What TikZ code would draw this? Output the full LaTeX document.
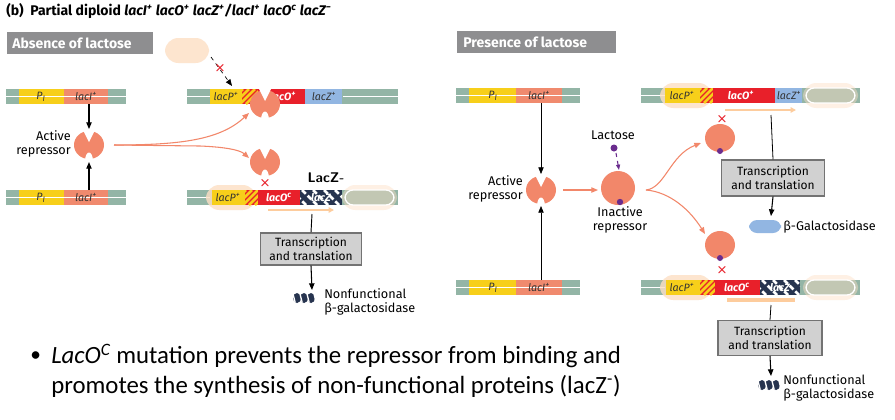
\documentclass[tikz,border=0pt]{standalone}
\usepackage{fontspec}
\setmainfont{Carlito}
\newfontfamily\fig{Fira Sans}
\usetikzlibrary{arrows.meta}
\definecolor{gg}{HTML}{93B5A6}
\definecolor{yl}{HTML}{F7CF1A}
\definecolor{sal}{HTML}{F08A6E}
\definecolor{rd}{HTML}{E8202A}
\definecolor{bl}{HTML}{92B6E2}
\definecolor{rep}{HTML}{F2876A}
\definecolor{pch}{HTML}{FDDFC4}
\definecolor{pur}{HTML}{6A2C8E}
\definecolor{gbox}{HTML}{8E8E90}
\definecolor{nav}{HTML}{27344F}
\tikzset{
  lab/.style={font=\fig\fontsize{9.5pt}{10.5pt}\selectfont, inner sep=0pt},
  glab/.style={font=\fig\itshape\fontsize{8pt}{8pt}\selectfont, inner sep=0pt, text=black!80},
  wlab/.style={font=\fig\itshape\bfseries\fontsize{8pt}{8pt}\selectfont, inner sep=0pt, text=white},
  hdr/.style={fill=gbox, text=white, font=\fig\bfseries\fontsize{9pt}{10pt}\selectfont, inner sep=0pt, anchor=north west},
  tbox/.style={draw=black!55, line width=1pt, fill=black!18, align=center, font=\fig\fontsize{9pt}{11pt}\selectfont, inner sep=2pt},
  arr/.style={-{Triangle[length=5pt,width=4pt]}, line width=0.8pt},
  thin/.style={-{Triangle[length=5pt,width=4pt]}, line width=0.5pt},
  rarr/.style={-{Triangle[length=5pt,width=4pt]}, line width=0.8pt, draw=rep},
  xmark/.style={text=rd, font=\sffamily\bfseries\fontsize{10pt}{10pt}\selectfont, inner sep=0pt},
  act/.pic={\fill[rep] (0,0) ellipse (15 and 14);
    \fill[white] (-6,-15) -- (0,-3) -- (6,-15) -- cycle;
    \fill[white] (-4,15) .. controls (-3,5) and (3,5) .. (4,15) -- cycle;},
  inact/.pic={\fill[rep] (0,0) circle (17); \fill[pur] (2,14) circle (3.2);},
  inact2/.pic={\fill[rep] (0,0) ellipse (15 and 14); \fill[pur] (0,13) circle (3);},
}
\newcommand\seg[4]{\fill[#4] (#1,#3) rectangle (#2,#3+15);}
\newcommand\wl[3]{\draw[white, line width=0.8pt] (#1,#3+7.5) -- (#2,#3+7.5);}
\newcommand\hatchseg[3]{\begin{scope}\clip (#1,#3) rectangle (#2,#3+15);
  \fill[rd] (#1,#3) rectangle (#2,#3+15);
  \foreach \k in {-20,-14,...,20} {\draw[yl, line width=2pt] (#1+\k,#3+15) -- (#1+\k+15,#3);}
  \end{scope}}
\newcommand\chkseg[3]{\begin{scope}\clip (#1,#3) rectangle (#2,#3+15);
  \fill[nav] (#1,#3) rectangle (#2,#3+15);
  \foreach \k in {-20,-9,...,45} {\draw[white, line width=2pt, dash pattern=on 4pt off 2pt] (#1+\k,#3) -- (#1+\k+15,#3+15);}
  \end{scope}}
\newcommand\gpill[2]{\fill[pch, opacity=0.45, rounded corners=10] (#1-3,#2-5) rectangle (#1+52,#2+20);
  \draw[white, line width=1pt, rounded corners=6] (#1,#2) rectangle (#1+49,#2+15);}
\newcommand\ppill[3]{\fill[pch, opacity=0.8, rounded corners=10] (#1,#3-5) rectangle (#2,#3+20);}
\begin{document}
\begin{tikzpicture}[x=0.75pt,y=-0.75pt]
\useasboundingbox (0,0) rectangle (895,419);
\fill[white] (0,0) rectangle (895,419);
% title
\node[anchor=west, inner sep=0pt, font=\fig\bfseries\fontsize{10.5pt}{11pt}\selectfont] (title) at (6,11)
 {(b)\ \ Partial diploid \textit{lacI\textsuperscript{+} lacO\textsuperscript{+} lacZ\textsuperscript{+}/lacI\textsuperscript{+} lacO\textsuperscript{c} lacZ\textsuperscript{−}}};
\node[hdr, minimum width=109pt, minimum height=16pt] (h1) at (7,32) {};
\node[anchor=west, text=white, font=\fig\bfseries\fontsize{10.5pt}{12pt}\selectfont, inner sep=0pt] (h1t) at (12,43) {Absence of lactose};
\node[hdr, minimum width=119pt, minimum height=16pt] (h2) at (457,31) {};
\node[anchor=west, text=white, font=\fig\bfseries\fontsize{10.5pt}{12pt}\selectfont, inner sep=0pt] (h2t) at (463,42) {Presence of lactose};
% ===== LEFT PANEL =====
\foreach \yy in {89,190} {
 \seg{6}{126}{\yy}{gg} \seg{19}{64}{\yy}{yl} \seg{64}{108}{\yy}{sal} \wl{6}{126}{\yy}
}
\node[glab] (pi1) at (41,96.5) {P\textsubscript{I}};
\node[glab] (li1) at (86,96.5) {lacI\textsuperscript{+}};
\node[glab] (pi2) at (41,197.5) {P\textsubscript{I}};
\node[glab] (li2) at (86,197.5) {lacI\textsuperscript{+}};
\coordinate (b1) at (89,104); \coordinate (b2) at (89,190);
\pic at (89,145) {act};
\coordinate (r1t) at (89,129); \coordinate (r1b) at (89,162);
\draw[arr] (b1) -- (r1t);
\draw[arr] (b2) -- (r1b);
\node[lab, align=right, anchor=east] (ar1) at (71,144) {Active\\repressor};
% top right bar
\ppill{165}{209}{43}
\seg{187}{398}{89}{gg} \wl{187}{210}{89} \wl{343}{398}{89}
\seg{210}{242}{89}{yl} \hatchseg{242}{258}{89} \seg{258}{305}{89}{rd} \seg{305}{342}{89}{bl}
\node[glab] (lp1) at (226,96.5) {lacP\textsuperscript{+}};
\node[wlab] (lo1) at (283,96.5) {lacO\textsuperscript{+}};
\node[glab] (lz1) at (324,96.5) {lacZ\textsuperscript{+}};
\coordinate (pa) at (211,57); \coordinate (pb) at (232,86);
\draw[thin, dashed] (pa) -- (pb);
\node[xmark] (x0) at (220,68) {\texttimes};
\pic at (265,104) {act};
% bottom right bar
\seg{187}{398}{190}{gg} \wl{187}{210}{190}
\fill[pch, opacity=0.8, rounded corners=10] (206,185) rectangle (256,210);
\seg{212}{245}{190}{yl} \hatchseg{245}{258}{190} \seg{258}{300}{190}{rd} \chkseg{300}{342}{190}
\gpill{345}{190}
\node[glab] (lp2) at (228,197.5) {lacP\textsuperscript{+}};
\node[wlab] (lo2) at (279,197.5) {lacO\textsuperscript{c}};
\node[wlab] (lz2) at (321,197.5) {lacZ};
\node[font=\sffamily\bfseries\fontsize{10.5pt}{11pt}\selectfont, inner sep=0pt] (lzm) at (326,178) {LacZ-};
\coordinate (t1a) at (268,210); \coordinate (t1b) at (334,210);
\draw[-{Triangle[length=4pt,width=4pt]}, line width=2pt, draw=pch!80!orange] (t1a) -- (t1b);
\pic at (265,162) {act};
\node[xmark] (x1) at (265,183) {\texttimes};
\coordinate (rs) at (114,145); \coordinate (ra) at (249,113); \coordinate (rb) at (249,158);
\draw[rarr] (rs) .. controls (180,145) and (220,140) .. (ra);
\draw[rarr] (rs) -- (200,146) .. controls (225,147) and (240,150) .. (rb);
\node[tbox, minimum width=76pt, minimum height=24pt] (tt1) at (311,249) {Transcription\\and translation};
\coordinate (l1) at (312,214);
\draw[line width=0.7pt] (l1) -- (tt1.north);
\coordinate (nf1) at (312,290);
\draw[arr] (tt1.south) -- (nf1);
\begin{scope}
\foreach \dx in {-7,0,7} \fill[nav] (304+\dx,298) ellipse (4 and 5);
\foreach \dx in {-10,-3,4,11} \draw[white, line width=1pt] (304+\dx-1,294) -- (304+\dx+1,302);
\end{scope}
\node[lab, anchor=west, align=left] (nft1) at (324,302) {Nonfunctional\\β-galactosidase};
% ===== RIGHT PANEL =====
\foreach \yy in {88,280} {
 \seg{456}{580}{\yy}{gg} \seg{469}{516}{\yy}{yl} \seg{516}{562}{\yy}{sal} \wl{456}{580}{\yy}
}
\node[glab] (pi3) at (493,95.5) {P\textsubscript{I}};
\node[glab] (li3) at (539,95.5) {lacI\textsuperscript{+}};
\node[glab] (pi4) at (493,287.5) {P\textsubscript{I}};
\node[glab] (li4) at (539,287.5) {lacI\textsuperscript{+}};
\pic at (541,190) {act};
\coordinate (b3) at (541,103); \coordinate (b4) at (541,280);
\coordinate (r2t) at (541,174); \coordinate (r2b) at (541,206);
\draw[thin] (b3) -- (r2t);
\draw[thin] (b4) -- (r2b);
\node[lab, align=right, anchor=east] (ar2) at (523,189) {Active\\repressor};
\node[lab] (lac) at (613,135) {Lactose};
\fill[pur] (614,148) circle (3.5);
\coordinate (ld) at (616,153); \coordinate (ld2) at (619,170);
\draw[-{Triangle[length=4pt,width=3pt]}, pur, line width=0.8pt, dashed] (ld) -- (ld2);
\pic at (618,188) {inact};
\node[lab, align=center] (ir) at (620,220) {Inactive\\repressor};
\coordinate (a3) at (563,190); \coordinate (a4) at (598,190);
\draw[rarr] (a3) -- (a4);
\coordinate (s2) at (646,190); \coordinate (s2a) at (701,143); \coordinate (s2b) at (705,234);
\draw[rarr] (s2) .. controls (665,188) and (670,155) .. (s2a);
\draw[rarr] (s2) .. controls (670,192) and (690,210) .. (s2b);
% top right bar
\seg{641}{860}{88}{gg} \wl{641}{665}{88}
\fill[pch, opacity=0.8, rounded corners=10] (660,83) rectangle (712,108);
\seg{665}{700}{88}{yl} \hatchseg{700}{713}{88} \seg{713}{775}{88}{rd} \seg{775}{802}{88}{bl}
\gpill{806}{88}
\node[glab] (lp3) at (682,95.5) {lacP\textsuperscript{+}};
\node[wlab] (lo3) at (741,95.5) {lacO\textsuperscript{+}};
\node[glab] (lz3) at (789,95.5) {lacZ\textsuperscript{+}};
\coordinate (t2a) at (725,110); \coordinate (t2b) at (796,110);
\draw[-{Triangle[length=4pt,width=4pt]}, line width=1.5pt, draw=pch!80!orange] (t2a) -- (t2b);
\node[xmark] (x2) at (722,119) {\texttimes};
\pic at (720,138) {inact2};
\node[tbox, minimum width=77pt, minimum height=27pt] (tt2) at (773,178) {Transcription\\and translation};
\coordinate (l2) at (771,115);
\draw[line width=0.6pt] (l2) -- (tt2.north);
\coordinate (bg) at (771,216);
\draw[arr] (tt2.south) -- (bg);
\fill[bl, rounded corners=6] (749,220) rectangle (781,233);
\node[lab, anchor=west] (bgt) at (783,227) {β-Galactosidase};
% bottom right bar
\pic at (720,245) {inact2};
\node[xmark] (x3) at (722,270) {\texttimes};
\seg{641}{860}{280}{gg} \wl{641}{665}{280}
\fill[pch, opacity=0.8, rounded corners=10] (660,275) rectangle (712,300);
\seg{666}{700}{280}{yl} \hatchseg{700}{715}{280} \seg{715}{760}{280}{rd} \chkseg{760}{800}{280}
\gpill{806}{280}
\node[glab] (lp4) at (682,287.5) {lacP\textsuperscript{+}};
\node[wlab] (lo4) at (737,287.5) {lacO\textsuperscript{c}};
\node[wlab] (lz4) at (780,287.5) {lacZ};
\coordinate (t3a) at (727,300); \coordinate (t3b) at (795,300);
\draw[line width=2.5pt, draw=pch!80!orange] (t3a) -- (t3b);
\node[tbox, minimum width=78pt, minimum height=26pt] (tt3) at (770,338) {Transcription\\and translation};
\coordinate (l3) at (771,305);
\draw[line width=0.6pt] (l3) -- (tt3.north);
\coordinate (nf2) at (771,376);
\draw[arr] (tt3.south) -- (nf2);
\begin{scope}
\foreach \dx in {-7,0,7} \fill[nav] (769+\dx,385) ellipse (4 and 5);
\foreach \dx in {-10,-3,4,11} \draw[white, line width=1pt] (769+\dx-1,381) -- (769+\dx+1,389);
\end{scope}
\node[lab, anchor=west, align=left] (nft2) at (783,388) {Nonfunctional\\β-galactosidase};
% bullet text
\node[anchor=west, inner sep=0pt, font=\fontsize{16pt}{18pt}\selectfont] (bul) at (30,357) {•};
\node[anchor=west, inner sep=0pt, font=\fontsize{18.6pt}{20pt}\selectfont] (bt1) at (51,356) {\textit{LacO\textsuperscript{C}} mutation prevents the repressor from binding and};
\node[anchor=west, inner sep=0pt, font=\fontsize{18.6pt}{20pt}\selectfont] (bt2) at (51,386) {promotes the synthesis of non-functional proteins (lacZ\textsuperscript{-})};
\end{tikzpicture}
\end{document}
